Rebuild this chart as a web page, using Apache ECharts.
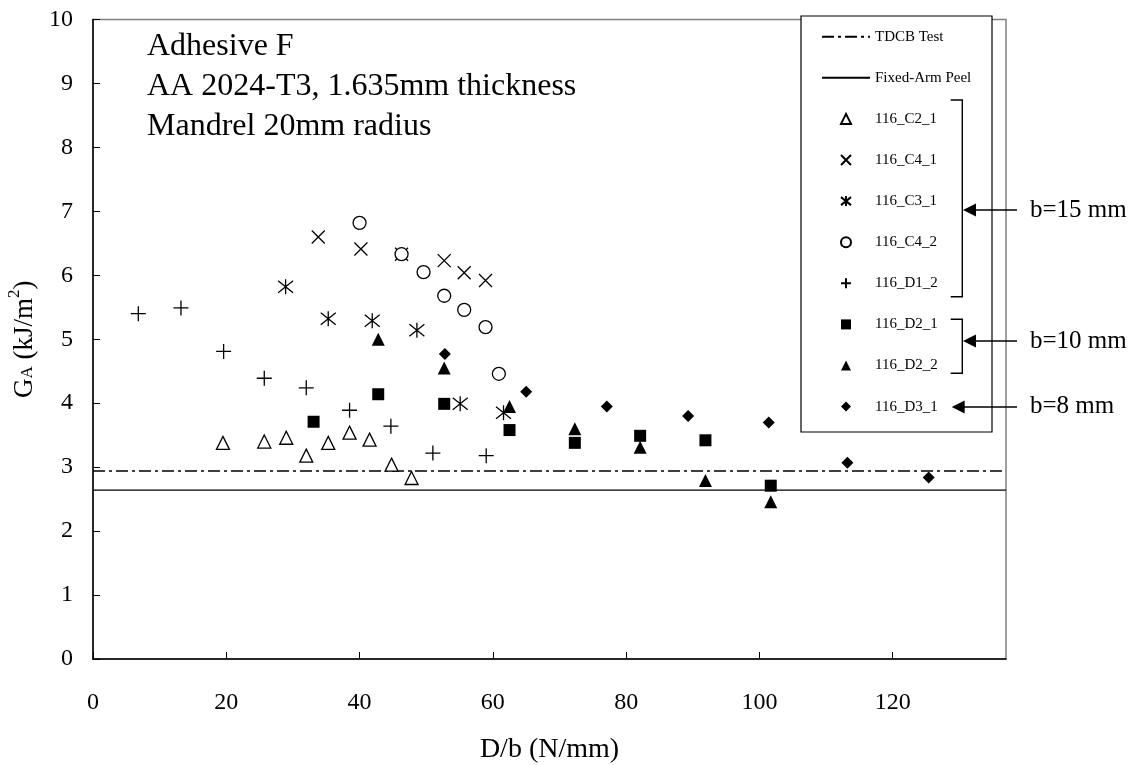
<!DOCTYPE html>
<html><head><meta charset="utf-8">
<script src="https://cdn.jsdelivr.net/npm/echarts@6/dist/echarts.min.js"></script>
<style>html,body{margin:0;padding:0;background:#fff}#c{width:1136px;height:765px}</style>
</head><body><div id="c"></div>
<script>
// ---- data (D/b in N/mm, GA in kJ/m^2) ----
const tdcbLevel = 2.94;
const fixedArmLevel = 2.64;
const xRange = [0, 137];
const s116_C2_1 = [[19.5,3.38],[25.7,3.40],[29.0,3.46],[32.0,3.18],[35.3,3.38],[38.5,3.54],[41.5,3.43],[44.8,3.04],[47.8,2.83]];
const s116_C4_1 = [[33.8,6.60],[40.2,6.41],[46.3,6.33],[52.7,6.23],[55.7,6.04],[58.9,5.92]];
const s116_C3_1 = [[28.9,5.82],[35.3,5.32],[41.9,5.29],[48.6,5.14],[55.1,3.99],[61.6,3.85]];
const s116_C4_2 = [[40.0,6.82],[46.3,6.33],[49.6,6.05],[52.7,5.68],[55.7,5.46],[58.9,5.19],[60.9,4.46]];
const s116_D1_2 = [[6.8,5.40],[13.2,5.49],[19.6,4.81],[25.7,4.39],[32.0,4.24],[38.5,3.89],[44.7,3.64],[51.0,3.22],[59.0,3.18]];
const s116_D2_1 = [[33.1,3.71],[42.8,4.14],[52.7,3.99],[62.5,3.58],[72.3,3.38],[82.1,3.49],[91.9,3.42],[101.7,2.71]];
const s116_D2_2 = [[42.8,5.00],[52.7,4.55],[62.5,3.95],[72.3,3.60],[82.1,3.31],[91.9,2.79],[101.7,2.46]];
const s116_D3_1 = [[52.8,4.77],[65.0,4.18],[77.1,3.95],[89.3,3.80],[101.4,3.70],[113.2,3.07],[125.4,2.84]];
const legendNames = ['TDCB Test','Fixed-Arm Peel','116_C2_1','116_C4_1','116_C3_1','116_C4_2','116_D1_2','116_D2_1','116_D2_2','116_D3_1'];
const infoLines = ['Adhesive F','AA 2024-T3, 1.635mm thickness','Mandrel 20mm radius'];
const groupLabels = ['b=15 mm','b=10 mm','b=8 mm'];

const FONT = '"Liberation Serif", "Times New Roman", serif';
const X_PATH = 'path://M0,0L10,10M10,0L0,10';
const PLUS_PATH = 'path://M5,0L5,10M0,5L10,5';
const AST_PATH = 'path://M0,1L10,9M10,1L0,9M5,0L5,10';
const TRI_PATH = 'path://M5,0L10,10L0,10Z';
const SQ_PATH = 'path://M0,0L10,0L10,10L0,10Z';
const DIA_PATH = 'path://M5,0L10,5L5,10L0,5Z';
const CIR_PATH = 'path://M5,0A5,5,0,1,1,5,10A5,5,0,1,1,5,0Z';

const hollow = {color:'#fff', borderColor:'#000', borderWidth:1.3, opacity:1};
const stroked = {color:'rgba(0,0,0,0)', borderColor:'#000', borderWidth:1.3, opacity:1};
const solid = {color:'#000', borderWidth:0, opacity:1};

function sc(name, data, symbol, size, style){
  return {name, type:'scatter', data, symbol, symbolSize:size, itemStyle:style, z:3};
}

const chart = echarts.init(document.getElementById('c'), null, {renderer:'canvas'});
const lw = 1.4;
function line(points){ return {type:'polyline', shape:{points}, style:{stroke:'#000', lineWidth:lw, fill:null}, z:5}; }
function arrow(y, tipX){
  return [
    {type:'line', shape:{x1:1017, y1:y, x2:tipX+12, y2:y}, style:{stroke:'#000', lineWidth:lw}, z:5},
    {type:'polygon', shape:{points:[[tipX,y],[tipX+13,y-6.5],[tipX+13,y+6.5]]}, style:{fill:'#000'}, z:5}
  ];
}
const graphics = [
  {type:'rect', shape:{x:801, y:16, width:191, height:416}, style:{fill:'#fff', stroke:'#000', lineWidth:1.2}, z:3},
  line([[950.7,100],[962.3,100],[962.3,296.7],[950.7,296.7]]),
  line([[950.7,319.3],[962.3,319.3],[962.3,373.3],[950.7,373.3]]),
  ...arrow(210, 963), ...arrow(341, 963), ...arrow(407, 951.7),
  {type:'text', x:1030, y:210, style:{text:groupLabels[0], font:'25px '+FONT, fill:'#000', verticalAlign:'middle'}, z:5},
  {type:'text', x:1030, y:341.5, style:{text:groupLabels[1], font:'25px '+FONT, fill:'#000', verticalAlign:'middle'}, z:5},
  {type:'text', x:1030, y:406.5, style:{text:groupLabels[2], font:'25px '+FONT, fill:'#000', verticalAlign:'middle'}, z:5},
];
infoLines.forEach((t,i)=>graphics.push({type:'text', x:147, y:47+40*i, style:{text:t, font:'32px '+FONT, fill:'#000', verticalAlign:'middle'}, z:5}));

const legendData = legendNames.map((n,i)=> i < 2 ? {name:n, itemStyle:{opacity:0}} : {name:n});

const option = {
  animation:false,
  backgroundColor:'#fff',
  grid:{left:93, right:130, top:19.5, bottom:106, outerBoundsMode:'none', containLabel:false,
    show:true, borderColor:'#808080', borderWidth:1.5, backgroundColor:'transparent'},
  xAxis:{type:'value', min:xRange[0], max:xRange[1], interval:20,
    name:'D/b (N/mm)', nameLocation:'middle', nameGap:77,
    nameTextStyle:{fontFamily:FONT, fontSize:28, color:'#000'},
    axisLine:{show:true, onZero:false, lineStyle:{color:'#000', width:1.5}},
    axisTick:{show:true, inside:true, length:7, lineStyle:{color:'#000', width:1}},
    axisLabel:{fontFamily:FONT, fontSize:24, color:'#000', margin:32, showMaxLabel:false},
    splitLine:{show:false}},
  yAxis:{type:'value', min:0, max:10, interval:1,
    name:'{g|G}{s|A}{g| (kJ/m}{p|2}{g|)}', nameLocation:'middle', nameGap:42, nameRotate:90,
    nameTextStyle:{fontFamily:FONT, fontSize:27, color:'#000',
      rich:{g:{fontFamily:FONT, fontSize:27, color:'#000', lineHeight:32, verticalAlign:'bottom'},
            s:{fontFamily:FONT, fontSize:17, color:'#000', lineHeight:32, verticalAlign:'bottom', padding:[0,0,2,0]},
            p:{fontFamily:FONT, fontSize:17, color:'#000', lineHeight:32, verticalAlign:'top'}}},
    axisLine:{show:true, onZero:false, lineStyle:{color:'#000', width:1.5}},
    axisTick:{show:true, inside:true, length:7, lineStyle:{color:'#000', width:1}},
    axisLabel:{fontFamily:FONT, fontSize:24, color:'#000', margin:20},
    splitLine:{show:false}},
  legend:{data:legendData, orient:'vertical', left:821, top:29.2, padding:0, itemGap:26.1,
    itemWidth:48, itemHeight:10, selectedMode:false, z:4, symbolKeepAspect:true,
    textStyle:{fontFamily:FONT, fontSize:15, color:'#000', lineHeight:15}},
  graphic:{elements:graphics},
  series:[
    {name:'TDCB Test', type:'line', data:[[xRange[0],tdcbLevel],[xRange[1],tdcbLevel]], symbol:'none',
      lineStyle:{color:'#000', width:1.3, type:[12,4,3,4]}, itemStyle:{color:'#000'}, z:2},
    {name:'Fixed-Arm Peel', type:'line', data:[[xRange[0],fixedArmLevel],[xRange[1],fixedArmLevel]], symbol:'none',
      lineStyle:{color:'#000', width:1.3}, itemStyle:{color:'#000'}, z:2},
    sc('116_C2_1', s116_C2_1, TRI_PATH, 13, hollow),
    sc('116_C4_1', s116_C4_1, X_PATH, 13, stroked),
    sc('116_C3_1', s116_C3_1, AST_PATH, 15, stroked),
    sc('116_C4_2', s116_C4_2, CIR_PATH, 13, hollow),
    sc('116_D1_2', s116_D1_2, PLUS_PATH, 15, stroked),
    sc('116_D2_1', s116_D2_1, SQ_PATH, 12, solid),
    sc('116_D2_2', s116_D2_2, TRI_PATH, 13, solid),
    sc('116_D3_1', s116_D3_1, DIA_PATH, 12, solid)
  ]
};
chart.setOption(option);
</script></body></html>
